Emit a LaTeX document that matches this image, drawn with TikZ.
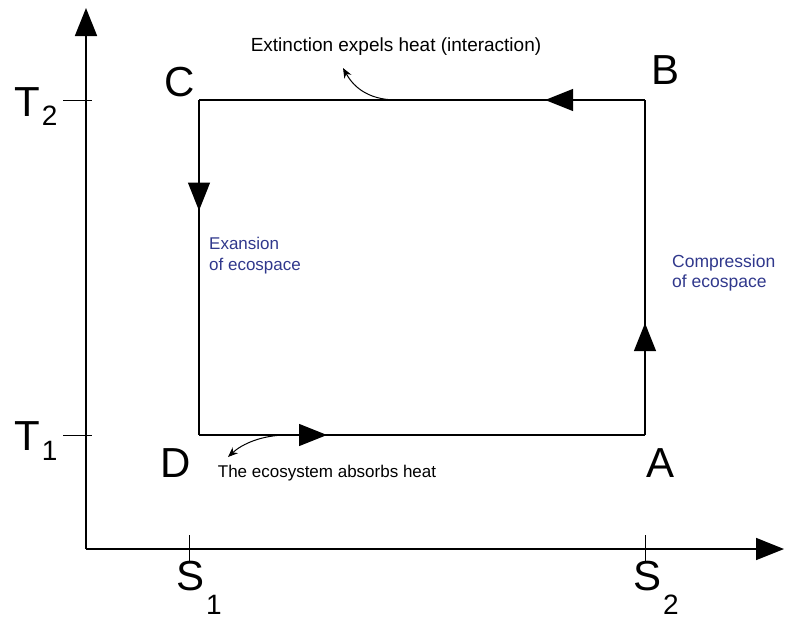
\documentclass[tikz,border=0pt]{standalone}
\usepackage{fontspec}
\setmainfont{Liberation Sans}
\usetikzlibrary{arrows.meta,decorations.markings}
\definecolor{ecoblue}{RGB}{48,56,140}
\newcommand{\sublab}[3]{#1\kern2pt\raisebox{-#3}{\fontsize{28}{28}\selectfont #2}}

\begin{document}
\begin{tikzpicture}[x=1pt,y=-1pt,
  big/.style={font=\fontsize{42}{42}\selectfont,inner sep=0pt},
  note/.style={inner sep=0pt,anchor=base},
  eco/.style={font=\fontsize{17}{21}\selectfont,text=ecoblue,align=left,inner sep=0pt,anchor=north west},
  flow/.style={postaction={decorate},decoration={markings,mark=at position #1 with {\arrow{Triangle[length=28pt,width=22pt]}}}}]
\useasboundingbox (0,0) rectangle (786,621);

% axes
\coordinate (o) at (86,549);
\coordinate (ytop) at (86,8);
\coordinate (xend) at (784,549);
\draw[line width=1.6pt,-{Triangle[length=28pt,width=22pt]}] (o) -- (ytop);
\draw[line width=1.6pt,-{Triangle[length=28pt,width=22pt]}] (o) -- (xend);
\draw[line width=1pt] (63,100) -- (92,100);
\draw[line width=1pt] (63,435) -- (92,435);
\draw[line width=1pt] (189,535) -- (189,561);
\draw[line width=1pt] (645,535) -- (645,561);

\node[big,anchor=base west] (t2) at (14,116) {\sublab{T}{2}{9pt}};
\node[big,anchor=base west] (t1) at (14,450) {\sublab{T}{1}{10pt}};
\node[big,anchor=base west] (s1) at (176,590) {\sublab{S}{1}{24pt}};
\node[big,anchor=base west] (s2) at (633,590) {\sublab{S}{2}{24pt}};

% cycle
\coordinate (A) at (645,435);
\coordinate (B) at (645,100);
\coordinate (C) at (199,100);
\coordinate (D) at (199,435);
\draw[line width=1.3pt,flow=0.224] (B) -- (C);
\draw[line width=1.3pt,flow=0.33] (C) -- (D);
\draw[line width=1.3pt,flow=0.287] (D) -- (A);
\draw[line width=1.3pt,flow=0.334] (A) -- (B);

\node[big] (lC) at (180,82) {C};
\node[big] (lB) at (665,70) {B};
\node[big] (lD) at (176,463) {D};
\node[big] (lA) at (660,463) {A};

% heat exchange
\coordinate (emit) at (397,100);
\coordinate (emitend) at (343,68);
\coordinate (absorb) at (287,435);
\coordinate (absorbend) at (228,457);
\draw[line width=1pt,-{Stealth[length=10pt,width=8pt]}] (emit) .. controls (365,100) and (352,84) .. (emitend);
\draw[line width=1pt,-{Stealth[length=10pt,width=8pt]}] (absorb) .. controls (262,435) and (242,444) .. (absorbend);

\node[note,font=\fontsize{19}{19}\selectfont] (ext) at (396,51) {Extinction expels heat (interaction)};
\node[note,font=\fontsize{17}{17}\selectfont] (abs) at (327,477) {The ecosystem absorbs heat};
\node[eco] (exp) at (209,237) {Exansion\\of ecospace};
\node[eco,font=\fontsize{17.5}{20}\selectfont] (comp) at (672,255) {Compression\\of ecospace};
\end{tikzpicture}
\end{document}
